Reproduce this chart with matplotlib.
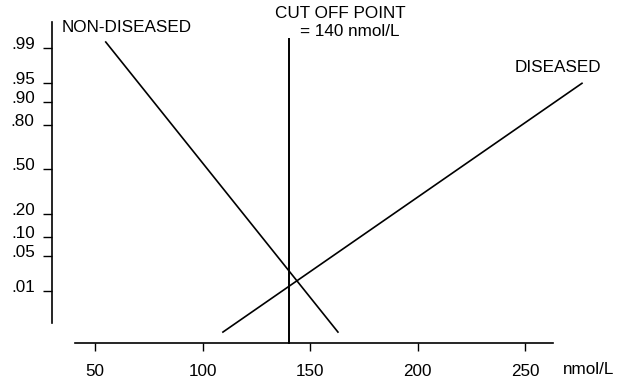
"""Cut off point on normal probability scale"""

#%% Importing modules
from statistics import NormalDist
import numpy as np
import matplotlib
matplotlib.use('Agg')
import matplotlib.pyplot as plt
from matplotlib.transforms import ScaledTranslation

#%% Data
y_ticks = [0.01, 0.05, 0.10, 0.20, 0.50, 0.80, 0.90, 0.95, 0.99]
y_labels = ['.01', '.05', '.10', '.20', '.50', '.80', '.90', '.95', '.99']
x_ticks = [50, 100, 150, 200, 250]

non_diseased_x = [55, 163]
non_diseased_p = [0.9925, 0.00096]
diseased_x = [109.5, 276.5]
diseased_p = [0.00096, 0.95]

cut_off = 140
cut_off_top = 0.9936

#%% Probit scale for the y axis
nd = NormalDist()
_ppf = np.vectorize(nd.inv_cdf, otypes=[float])
_cdf = np.vectorize(nd.cdf, otypes=[float])


def forward(p):
    p = np.clip(np.asarray(p, dtype=float), 1e-9, 1 - 1e-9)
    return _ppf(p)


def inverse(z):
    return _cdf(np.asarray(z, dtype=float))


#%% Figure
plt.rcParams['font.family'] = ['Liberation Sans', 'DejaVu Sans']
fig = plt.figure(figsize=(6.21, 3.84), dpi=100)
W, H = 621, 384
ax = fig.add_axes([52 / W, (H - 343) / H, (W - 52) / W, 343 / H])
ax.set_yscale('function', functions=(forward, inverse))
ax.set_xlim(30.0, 294.65)
ax.set_ylim(0.000465, 0.99939)

#%% Lines
ax.plot(non_diseased_x, non_diseased_p, color='black', lw=1.2, clip_on=False)
ax.plot(diseased_x, diseased_p, color='black', lw=1.2, clip_on=False)
ax.plot([cut_off, cut_off], [ax.get_ylim()[0], cut_off_top], color='black',
        lw=1.4, clip_on=False)

#%% Axes look
ax.spines['top'].set_visible(False)
ax.spines['right'].set_visible(False)
ax.spines['left'].set_bounds(0.0017, 0.99756)
ax.spines['bottom'].set_bounds(40.7, 263)
ax.spines['left'].set_linewidth(1.2)
ax.spines['bottom'].set_linewidth(1.2)

ax.set_xticks(x_ticks)
ax.set_xticklabels([str(v) for v in x_ticks])
ax.set_yticks(y_ticks)
ax.set_yticklabels(y_labels)
ax.minorticks_off()
ax.tick_params(axis='x', direction='out', length=6, width=1, pad=9,
               labelsize=12.3)
ax.tick_params(axis='y', direction='out', length=6.5, width=1, pad=6,
               labelsize=12.3)
# y labels sit a bit above their ticks
up = ScaledTranslation(0, 5 / 100, fig.dpi_scale_trans)
for lab in ax.get_yticklabels():
    lab.set_transform(lab.get_transform() + up)

#%% Text labels
fs = 12.3
fig.text(62 / W, 1 - 27 / H, 'NON-DISEASED', fontsize=fs, va='center')
fig.text(275 / W, 1 - 13 / H, 'CUT OFF POINT', fontsize=fs, va='center')
fig.text(300 / W, 1 - 32 / H, '= 140 nmol/L', fontsize=fs, va='center')
fig.text(515 / W, 1 - 68 / H, 'DISEASED', fontsize=fs, va='center')
fig.text(563 / W, 1 - 370 / H, 'nmol/L', fontsize=fs, va='center')

fig.savefig('out.png', dpi=100)
